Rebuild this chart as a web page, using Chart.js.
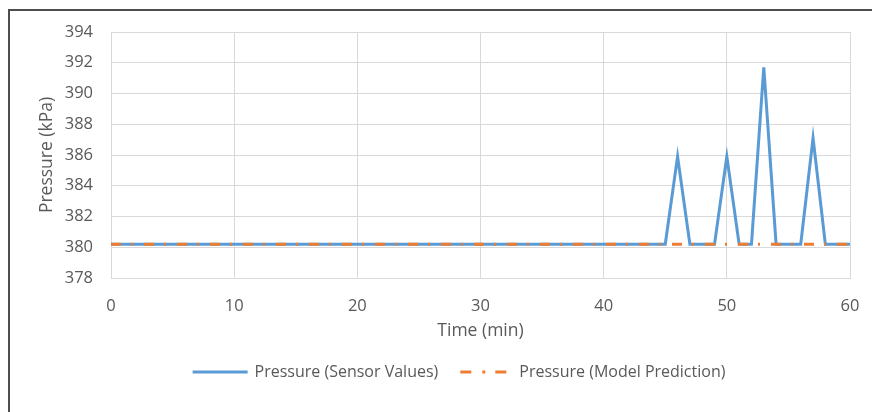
<!DOCTYPE html>
<html>
<head>
<meta charset="utf-8">
<script src="https://cdn.jsdelivr.net/npm/chart.js@4.4.1/dist/chart.umd.min.js"></script>
<style>
  html, body { margin: 0; padding: 0; background: #fff; }
  #wrap { position: relative; width: 872px; height: 412px; overflow: hidden; }
  #frame { position: absolute; left: 8px; top: 9px; width: 900px; height: 450px;
           border-left: 2px solid #4d4d4d; border-top: 2px solid #4d4d4d; }
  canvas { position: absolute; left: 0; top: 0; }
</style>
</head>
<body>
<div id="wrap">
  <div id="frame"></div>
  <canvas id="chart" width="872" height="412"></canvas>
</div>
<script>
const minutes = [
    0, 1, 2, 3, 4, 5, 6, 7, 8, 9, 10, 11, 12, 13, 14, 15, 16, 17, 18, 19, 20,
    21, 22, 23, 24, 25, 26, 27, 28, 29, 30, 31, 32, 33, 34, 35, 36, 37, 38, 39, 40,
    41, 42, 43, 44, 45, 46, 47, 48, 49, 50, 51, 52, 53, 54, 55, 56, 57, 58, 59, 60
];
const sensorValues = [
    380.2, 380.2, 380.2, 380.2, 380.2, 380.2, 380.2, 380.2, 380.2, 380.2, 380.2,
    380.2, 380.2, 380.2, 380.2, 380.2, 380.2, 380.2, 380.2, 380.2, 380.2,
    380.2, 380.2, 380.2, 380.2, 380.2, 380.2, 380.2, 380.2, 380.2, 380.2,
    380.2, 380.2, 380.2, 380.2, 380.2, 380.2, 380.2, 380.2, 380.2, 380.2,
    380.2, 380.2, 380.2, 380.2, 380.2, 385.9, 380.2, 380.2, 380.2, 385.9,
    380.2, 380.2, 391.7, 380.2, 380.2, 380.2, 387.1, 380.2, 380.2, 380.2
];
const modelValues = [
    380.2, 380.2, 380.2, 380.2, 380.2, 380.2, 380.2, 380.2, 380.2, 380.2, 380.2,
    380.2, 380.2, 380.2, 380.2, 380.2, 380.2, 380.2, 380.2, 380.2, 380.2,
    380.2, 380.2, 380.2, 380.2, 380.2, 380.2, 380.2, 380.2, 380.2, 380.2,
    380.2, 380.2, 380.2, 380.2, 380.2, 380.2, 380.2, 380.2, 380.2, 380.2,
    380.2, 380.2, 380.2, 380.2, 380.2, 380.2, 380.2, 380.2, 380.2, 380.2,
    380.2, 380.2, 380.2, 380.2, 380.2, 380.2, 380.2, 380.2, 380.2, 380.2
];
const seriesNames = ['Pressure (Sensor Values)', 'Pressure (Model Prediction)'];

const fontFamily = '"Open Sans", sans-serif';
const textColor = '#595959';
const gridColor = '#d9d9d9';
const blue = '#5b9bd5';
const orange = '#ed7d31';

const toPoints = values => values.map((y, i) => ({ x: minutes[i], y }));

// small canvas used as legend symbol so the dash shows up in the legend
const legendLine = (color, start, lineLength, dash) => {
    const c = document.createElement('canvas');
    c.width = 58;
    c.height = 4;
    const g = c.getContext('2d');
    g.strokeStyle = color;
    g.lineWidth = 3;
    g.setLineDash(dash);
    g.beginPath();
    g.moveTo(start, 2);
    g.lineTo(start + lineLength, 2);
    g.stroke();
    return c;
};

// the legend in the original sits a bit right of the canvas centre
const legendShift = {
    id: 'legendShift',
    afterLayout: chart => {
        chart.legend.left += 25;
        chart.legend.right += 25;
    }
};

const ctx = document.getElementById('chart').getContext('2d');

new Chart(ctx, {
    type: 'line',
    data: {
        datasets: [{
            label: seriesNames[0],
            data: toPoints(sensorValues),
            borderColor: blue,
            backgroundColor: blue,
            borderWidth: 3,
            pointRadius: 0,
            pointStyle: legendLine(blue, 1, 55, []),
            tension: 0,
            order: 2
        }, {
            label: seriesNames[1],
            data: toPoints(modelValues),
            borderColor: orange,
            backgroundColor: orange,
            borderWidth: 3,
            borderDash: [10, 10, 2, 11],
            pointRadius: 0,
            pointStyle: legendLine(orange, 4, 46, [11, 11, 3, 10]),
            tension: 0,
            order: 1
        }]
    },
    plugins: [legendShift],
    options: {
        responsive: false,
        animation: false,
        layout: { padding: { left: 20, right: 22, top: 32, bottom: 22 } },
        plugins: {
            tooltip: { enabled: false },
            legend: {
                position: 'bottom',
                labels: {
                    usePointStyle: true,
                    pointStyleWidth: 52,
                    boxHeight: 4,
                    padding: 21,
                    color: textColor,
                    font: { family: fontFamily, size: 16 },
                    sort: (a, b) => a.datasetIndex - b.datasetIndex
                }
            }
        },
        scales: {
            x: {
                type: 'linear',
                min: 0,
                max: 60,
                ticks: { stepSize: 10, padding: 18, color: textColor, font: { family: fontFamily, size: 16.5 } },
                grid: { color: gridColor, drawTicks: false },
                border: { color: gridColor },
                title: {
                    display: true,
                    text: 'Time (min)',
                    color: textColor,
                    font: { family: fontFamily, size: 17.5 },
                    padding: { top: 4, bottom: 1.5 }
                },
                afterFit: scale => {
                    scale.height = 65;
                    scale.paddingLeft = 0;
                    scale.paddingRight = 0;
                }
            },
            y: {
                min: 378,
                max: 394,
                ticks: { stepSize: 2, padding: 18, color: textColor, font: { family: fontFamily, size: 16.5 } },
                grid: { color: gridColor, drawTicks: false },
                border: { color: gridColor },
                title: {
                    display: true,
                    text: 'Pressure (kPa)',
                    color: textColor,
                    font: { family: fontFamily, size: 17.5 },
                    padding: { top: 17, bottom: 4 }
                },
                afterFit: scale => { scale.width = 91; }
            }
        }
    }
});
</script>
</body>
</html>
